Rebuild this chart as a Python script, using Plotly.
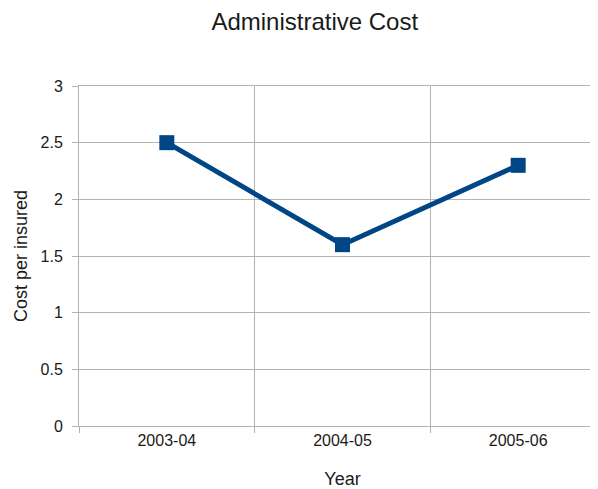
import plotly.graph_objects as go

years = ["2003-04", "2004-05", "2005-06"]
cost = [2.5, 1.6, 2.3]
y_ticks = [0, 0.5, 1, 1.5, 2, 2.5, 3]
y_tick_text = ["0", "0.5", "1", "1.5", "2", "2.5", "3"]

fig = go.Figure()
fig.add_trace(go.Scatter(
    x=years, y=cost, mode="lines+markers",
    line=dict(color="#004586", width=5),
    marker=dict(symbol="square", size=15, color="#004586"),
    showlegend=False,
))

grid = "#b3b3b3"
fig.update_layout(
    width=598, height=489,
    margin=dict(l=71, r=0, t=78, b=71),
    paper_bgcolor="white", plot_bgcolor="white",
    font=dict(family="Liberation Sans, Arial, sans-serif", color="#1a1a1a"),
    title=dict(text="Administrative Cost", x=0.513, xanchor="center", y=0.972, yanchor="middle",
               font=dict(size=24, color="#1a1a1a")),
    xaxis=dict(
        type="category", range=[-0.5, 2.5],
        showgrid=True, gridcolor=grid, gridwidth=1,
        tickson="boundaries", ticks="outside", ticklen=6, tickcolor=grid,
        showline=True, linecolor=grid, linewidth=1, mirror=True,
        zeroline=False,
        tickfont=dict(size=16),
        title=dict(text="Year", font=dict(size=18), standoff=24),
    ),
    yaxis=dict(
        range=[0, 3], tickvals=y_ticks, ticktext=y_tick_text,
        showgrid=True, gridcolor=grid, gridwidth=1,
        ticks="outside", ticklen=6, tickcolor=grid,
        showline=True, linecolor=grid, linewidth=1,
        zeroline=False,
        tickfont=dict(size=16),
        ticklabelstandoff=6,
        title=dict(text="Cost per insured", font=dict(size=18), standoff=8),
    ),
)

fig.write_html("out.html")
